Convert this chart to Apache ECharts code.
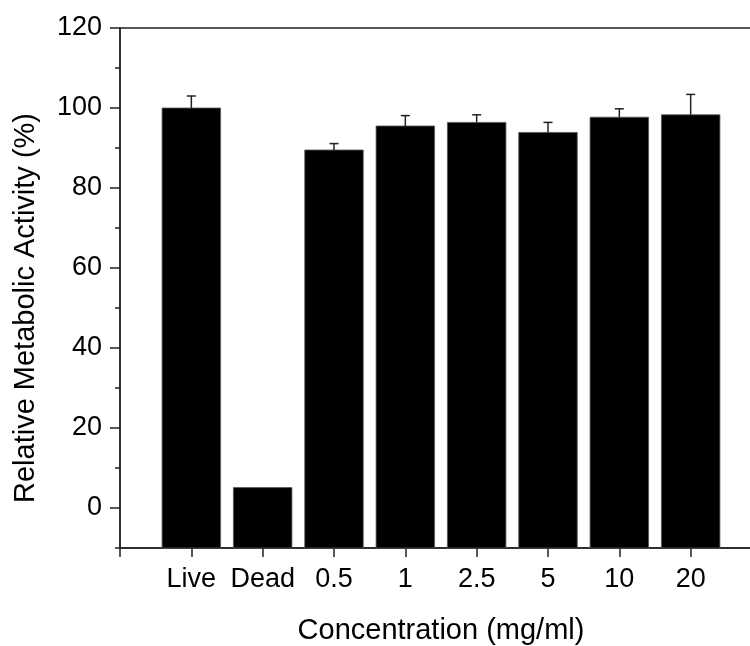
<!DOCTYPE html>
<html>
<head>
<meta charset="utf-8">
<script src="https://cdn.jsdelivr.net/npm/echarts@6/dist/echarts.min.js"></script>
<style>html,body{margin:0;padding:0;background:#fff;}#c{width:750px;height:646px;}</style>
</head>
<body>
<div id="c"></div>
<script>
const categories = ['Live', 'Dead', '0.5', '1', '2.5', '5', '10', '20'];
const values = [100, 5.1, 89.5, 95.5, 96.4, 93.9, 97.7, 98.3];
const errors = [3.0, 0, 1.6, 2.6, 1.9, 2.5, 2.1, 5.1];
const yMajorTicks = [0, 20, 40, 60, 80, 100, 120];
const yMinorTicks = [-10, 10, 30, 50, 70, 90, 110];
const yMin = -10, yMax = 120;

const barData = categories.map((c, i) => [i + 1, values[i]]);
const errData = categories.map((c, i) => [i + 1, values[i], values[i] + errors[i]]);

const font = '"Liberation Sans", Arial, sans-serif';
const axisColor = '#222';

const chart = echarts.init(document.getElementById('c'), null, {renderer: 'canvas'});
chart.setOption({
  animation: false,
  backgroundColor: '#fff',
  grid: {left: 120, right: -12, top: 28, bottom: 98, outerBoundsMode: 'none', containLabel: false,
    show: true, borderColor: axisColor, borderWidth: 1.5, backgroundColor: 'transparent'},
  xAxis: {
    type: 'value', min: 0, max: 9, interval: 1,
    name: 'Concentration (mg/ml)', nameLocation: 'middle', nameGap: 68,
    nameTextStyle: {fontFamily: font, fontSize: 29, color: '#000'},
    axisLine: {show: true, onZero: false, lineStyle: {color: axisColor, width: 1.5}},
    axisTick: {show: true, inside: false, length: 9, lineStyle: {color: axisColor, width: 1.5}},
    axisLabel: {fontFamily: font, fontSize: 27, color: '#000', margin: 18,
      formatter: v => categories[v - 1] !== undefined ? categories[v - 1] : ''},
    splitLine: {show: false}
  },
  yAxis: [{
    type: 'value', min: yMin, max: yMax, interval: 10,
    name: 'Relative Metabolic Activity (%)', nameLocation: 'middle', nameGap: 80,
    nameTextStyle: {fontFamily: font, fontSize: 29, color: '#000', padding: [0, 40, 0, 0]},
    axisLine: {show: true, onZero: false, lineStyle: {color: axisColor, width: 1.5}},
    axisTick: {show: true, length: 10, customValues: yMajorTicks, lineStyle: {color: axisColor, width: 1.5}},
    axisLabel: {fontFamily: font, fontSize: 27, color: '#000', margin: 18, customValues: yMajorTicks},
    splitLine: {show: false}
  }, {
    type: 'value', min: yMin, max: yMax, interval: 10, position: 'left',
    axisLine: {show: false},
    axisTick: {show: true, length: 5, customValues: yMinorTicks, lineStyle: {color: axisColor, width: 1.5}},
    axisLabel: {show: false},
    splitLine: {show: false}
  }],
  series: [{
    type: 'custom',
    xAxisIndex: 0, yAxisIndex: 0,
    data: barData,
    renderItem: function (params, api) {
      const x = api.value(0), v = api.value(1);
      const top = api.coord([x, v]);
      const base = api.coord([x, yMin]);
      const w = api.size([1, 0])[0] * 0.82;
      return {
        type: 'rect',
        shape: {x: top[0] - w / 2, y: top[1], width: w, height: base[1] - top[1]},
        style: {fill: '#000', stroke: '#555', lineWidth: 0.8}
      };
    },
    z: 2
  }, {
    type: 'custom',
    xAxisIndex: 0, yAxisIndex: 0,
    data: errData,
    renderItem: function (params, api) {
      const x = api.value(0), v = api.value(1), hi = api.value(2);
      if (hi <= v) return null;
      const p0 = api.coord([x, v]);
      const p1 = api.coord([x, hi]);
      const cw = 4.5;
      return {
        type: 'group',
        children: [
          {type: 'line', shape: {x1: p0[0], y1: p0[1], x2: p1[0], y2: p1[1]}, style: {stroke: '#222', lineWidth: 1.5}},
          {type: 'line', shape: {x1: p1[0] - cw, y1: p1[1], x2: p1[0] + cw, y2: p1[1]}, style: {stroke: '#222', lineWidth: 1.5}}
        ]
      };
    },
    z: 3
  }]
});
</script>
</body>
</html>
